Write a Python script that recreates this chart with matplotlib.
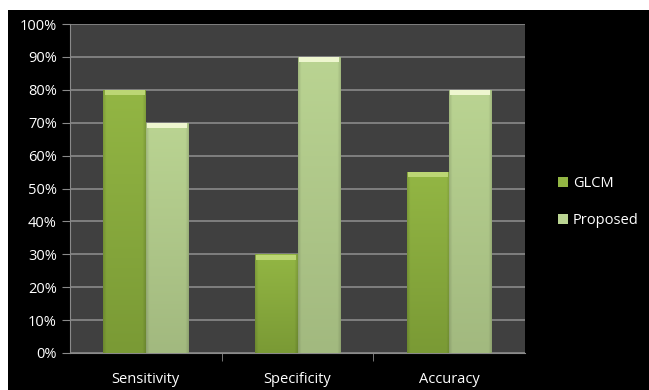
import matplotlib
matplotlib.use("Agg")
import matplotlib.pyplot as plt
import numpy as np
from matplotlib.colors import to_rgb
from matplotlib.patches import Rectangle

# datos del grafico
categorias = ["Sensitivity", "Specificity", "Accuracy"]
glcm = [80, 30, 55]
proposed = [70, 90, 80]
series = ["GLCM", "Proposed"]
yticks = [0, 10, 20, 30, 40, 50, 60, 70, 80, 90, 100]

fig = plt.figure(figsize=(6.49, 3.9), dpi=100, facecolor="white")
# fondo negro (con el borde blanco arriba y a la izquierda)
fig.patches.append(Rectangle((8 / 649, 0), 1, 380 / 390, transform=fig.transFigure,
                             facecolor="black", edgecolor="none", zorder=-10))

ax = fig.add_axes([70 / 649, 37 / 390, 455 / 649, 329 / 390])
ax.set_facecolor("#404040")

x = np.arange(len(categorias))
ancho = 0.28

# (arriba, abajo, bisel)
colores = [("#93b644", "#7a9a35", "#bcd674"), ("#bad492", "#a2b97f", "#eef6cf")]
for i, (vals, nombre) in enumerate([(glcm, series[0]), (proposed, series[1])]):
    top_c, bot_c, cap_c = colores[i]
    barras = ax.bar(x + (i - 0.5) * ancho, vals, ancho, color=top_c, label=nombre,
                    edgecolor="none", zorder=2)
    for b in barras:
        x0, w, h = b.get_x(), b.get_width(), b.get_height()
        # degradado vertical y bordes laterales un poco mas oscuros
        t = np.linspace(0, 1, 100).reshape(-1, 1, 1)
        img = np.array(to_rgb(bot_c)) * (1 - t) + np.array(to_rgb(top_c)) * t
        s = np.linspace(-1, 1, 40)
        borde = 1 - 0.12 * np.clip((np.abs(s) - 0.85) / 0.15, 0, 1)
        img = img * borde.reshape(1, -1, 1)
        im = ax.imshow(img, origin="lower", aspect="auto",
                       extent=[x0, x0 + w, 0, h], zorder=3)
        im.set_clip_path(b)
        # borde superior claro (bisel)
        ax.bar(x0 + w / 2, 1.5, w * 0.94, bottom=h - 1.6, color=cap_c, zorder=4,
               edgecolor="none")

ax.set_xlim(-0.5, 2.5)
ax.set_ylim(0, 100)
ax.set_yticks(yticks)
ax.set_yticklabels(["%d%%" % v for v in yticks])
ax.set_xticks([0.5, 1.5], minor=True)
ax.set_xticks(x)
ax.set_xticklabels(categorias)
ax.yaxis.grid(True, color="#8a8a8a", linewidth=1.2, zorder=1)
ax.set_axisbelow(True)

for s in ["top", "right"]:
    ax.spines[s].set_visible(False)
ax.spines["left"].set_color("#8a8a8a")
ax.spines["bottom"].set_color("#8a8a8a")
ax.tick_params(axis="y", colors="white", labelsize=10.5, length=6, color="#8a8a8a")
ax.tick_params(axis="x", which="major", length=0, colors="white", labelsize=10.5, pad=14)
ax.tick_params(axis="x", which="minor", length=6, color="#8a8a8a")
for lbl in ax.get_xticklabels() + ax.get_yticklabels():
    lbl.set_fontfamily("Open Sans")

ax.legend(loc="center left", bbox_to_anchor=(545 / 649, 188 / 390), bbox_transform=fig.transFigure,
          frameon=False, labelcolor="white", handlelength=0.7, handleheight=0.7,
          handletextpad=0.3, labelspacing=1.5, prop={"family": "Open Sans", "size": 10.5})

fig.savefig("out.png", dpi=100, facecolor=fig.get_facecolor())
